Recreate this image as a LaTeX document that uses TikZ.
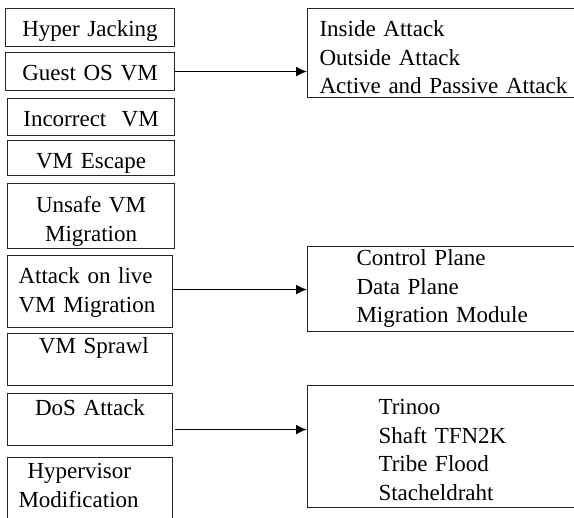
\documentclass[tikz,border=0pt]{standalone}
\usepackage{fontspec}
\setmainfont{Liberation Serif}
\usetikzlibrary{positioning,arrows.meta}

\begin{document}
\begin{tikzpicture}[x=1pt,y=-1pt,
    box/.style={draw=black!85, line width=1.1pt, inner sep=0pt, anchor=north west,
                font=\fontsize{23}{28.5}\selectfont},
    lbox/.style={box, align=center},
    rbox/.style={box, align=left},
    arr/.style={line width=1.6pt, -{Latex[length=11pt,width=10pt]}}]
\useasboundingbox (0,0) rectangle (574,518);
% attack types
\node[lbox, text width=169pt, text height=28pt, text depth=10pt] (hj)  at (5,8)   {Hyper Jacking};
\node[lbox, text width=169pt, text height=28pt, text depth=10pt] (go)  at (5,52)  {Guest OS VM};
\node[lbox, text width=167pt, text height=28pt, text depth=9pt]  (icv) at (7,98)  {Incorrect\ \ VM};
\node[lbox, text width=167pt, text height=28pt, text depth=7pt]  (vme) at (7,140) {VM Escape};
\node[lbox, text width=167pt, text height=29pt, text depth=36pt] (uvm) at (7,183) {Unsafe VM\\Migration};
\node[rbox, inner xsep=11pt, text width=143pt, text height=28pt, text depth=44pt] (alm) at (7,255) {Attack on live\\VM Migration};
\node[lbox, text width=165pt, text height=20pt, text depth=32pt] (vms) at (7,333) {\ VM Sprawl};
\node[lbox, text width=165pt, text height=22pt, text depth=30pt] (dos) at (7,393) {DoS Attack};
\node[rbox, inner xsep=11pt, text width=143pt, text height=21pt, text depth=62pt] (hvm) at (7,457) {\hspace*{9pt}Hypervisor\\Modification};
% sub types
\node[rbox, inner xsep=12pt, text width=260pt, text height=28pt, text depth=61pt] (gos) at (307,8)   {Inside Attack\\Outside Attack\\Active and Passive Attack};
\node[rbox, inner xsep=49pt, text width=180pt, text height=19pt, text depth=66pt] (lmg) at (307,246) {Control Plane\\Data Plane\\Migration Module};
\node[rbox, inner xsep=71pt, text width=160pt, text height=29pt, text depth=93pt] (dds) at (307,385) {Trinoo\\Shaft TFN2K\\Tribe Flood\\Stacheldraht};
% links
\draw[arr] (go.east) -- (go.east -| gos.west);
\draw[arr] ([yshift=2pt]alm.east) -- ([yshift=2pt]alm.east -| lmg.west);
\draw[arr] ([xshift=2pt,yshift=-10pt]dos.east) -- ([yshift=-10pt]dos.east -| dds.west);
\end{tikzpicture}
\end{document}
